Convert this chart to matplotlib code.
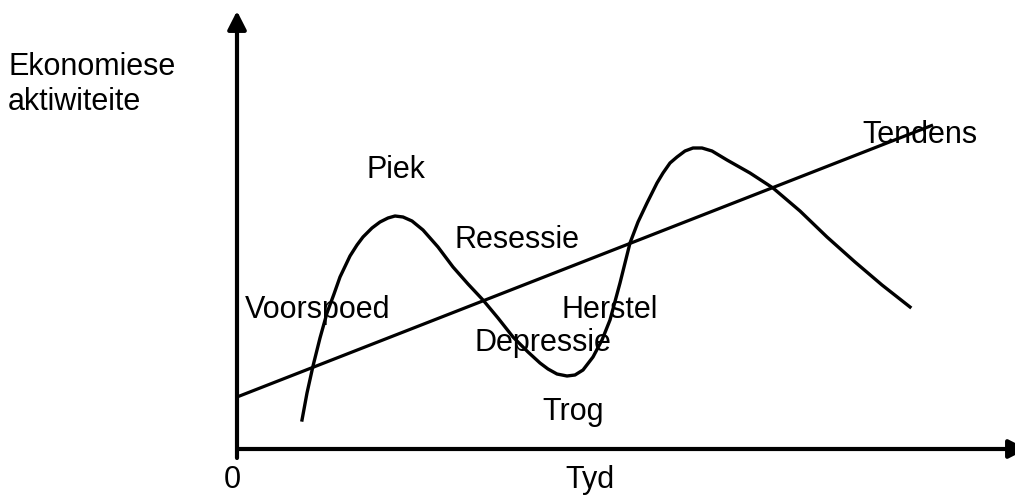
import matplotlib
matplotlib.use("Agg")
import matplotlib.pyplot as plt

plt.rcParams['font.family'] = ['Liberation Sans', 'DejaVu Sans']

# ekonomiese siklus (x = tyd, y = aktiwiteit), afgelees van die prent
siklus_x = [65, 70, 76, 83, 90, 97, 103, 113, 120, 126, 135, 143, 151, 158, 166,
            175, 186, 201, 216, 231, 246, 261, 276, 291, 303, 311, 320, 330, 338,
            346, 356, 365, 373, 383, 393, 401, 410, 420, 426, 433, 440, 448, 456,
            465, 475, 490, 513, 536, 563, 590, 618, 645, 673]
siklus_y = [29, 56, 83, 111, 136, 155, 172, 193, 204, 212, 221, 227, 231, 233, 232,
            228, 219, 202, 182, 165, 149, 131, 112, 97, 86, 80, 75, 73, 74,
            79, 92, 109, 129, 166, 206, 227, 246, 266, 276, 286, 292, 298, 301,
            301, 298, 289, 276, 261, 238, 212, 187, 164, 142]

# tendenslyn
tendens_x = [0, 696]
tendens_y = [52, 324]

# etikette: teks, x, y
etikette = [
    ("Piek", 159, 279),
    ("Resessie", 280, 209),
    ("Voorspoed", 81, 139),
    ("Herstel", 373, 139),
    ("Depressie", 306, 106),
    ("Trog", 336, 37),
    ("Tendens", 683, 314),
]

fig = plt.figure(figsize=(10.15, 4.96), dpi=100)
ax = fig.add_axes([0, 0, 1, 1])
ax.set_xlim(-237, 778)
ax.set_ylim(-47, 449)
ax.axis("off")

# asse met pyle
ax.annotate("", xy=(0, 438), xytext=(0, -9),
            arrowprops=dict(arrowstyle="-|>,head_length=0.55,head_width=0.28",
                            mutation_scale=20, lw=3, color="black",
                            shrinkA=0, shrinkB=0))
ax.annotate("", xy=(790, 0), xytext=(0, 0), annotation_clip=False,
            arrowprops=dict(arrowstyle="-|>,head_length=0.55,head_width=0.28",
                            mutation_scale=20, lw=3, color="black",
                            shrinkA=0, shrinkB=0))

ax.plot(tendens_x, tendens_y, color="black", lw=2.3, solid_capstyle="butt")
ax.plot(siklus_x, siklus_y, color="black", lw=2.4, solid_joinstyle="round")

fs = 22
for teks, x, y in etikette:
    ax.text(x, y, teks, fontsize=fs, ha="center", va="center")

ax.text(-229, 382, "Ekonomiese", fontsize=fs, ha="left", va="center")
ax.text(-229, 347, "aktiwiteite", fontsize=fs, ha="left", va="center")
ax.text(-5, -31, "0", fontsize=fs, ha="center", va="center")
ax.text(353, -31, "Tyd", fontsize=fs, ha="center", va="center")

fig.savefig("out.png", dpi=100)
